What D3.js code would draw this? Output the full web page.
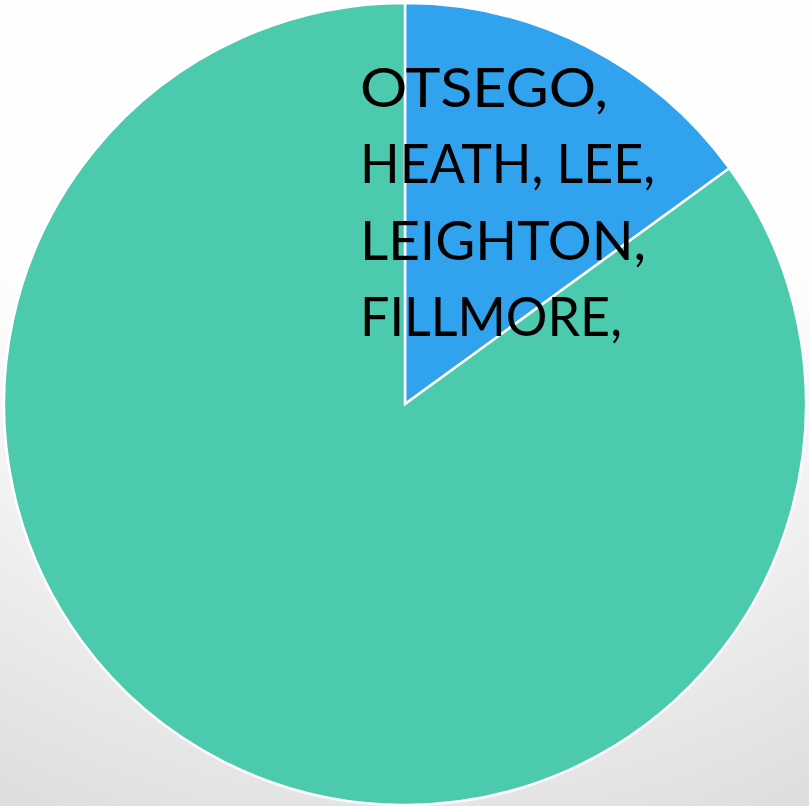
<!DOCTYPE html>
<html>
<head>
<meta charset="utf-8">
<script src="https://cdn.jsdelivr.net/npm/d3@7"></script>
<style>
  html, body { margin: 0; padding: 0; }
  body { width: 809px; height: 806px; overflow: hidden; }
</style>
</head>
<body>
<div id="chart"></div>
<script>
// slice data, clockwise from 12 o'clock
var categories = ["OTSEGO, HEATH, LEE, LEIGHTON, FILLMORE,", "OTHER"];
var values = [15, 85];
var colors = ["#31a3ee", "#4ccaae"];
// label lines as shown in the picture
var labelLines = ["OTSEGO,", "HEATH, LEE,", "LEIGHTON,", "FILLMORE,"];
var labelWidths = [248, 295, 286, 262];

var svgWidth = 809, svgHeight = 806;
var cx = 405, cy = 404, radius = 401;

var svg = d3.select("#chart")
  .append("svg")
  .attr("width", svgWidth)
  .attr("height", svgHeight);

// soft background, white at top fading to light grey
var defs = svg.append("defs");
var grad = defs.append("radialGradient")
  .attr("id", "bg")
  .attr("cx", "50%").attr("cy", "0%")
  .attr("r", "110%");
grad.append("stop").attr("offset", "0%").attr("stop-color", "#ffffff");
grad.append("stop").attr("offset", "55%").attr("stop-color", "#fdfdfd");
grad.append("stop").attr("offset", "100%").attr("stop-color", "#dedede");

svg.append("rect")
  .attr("width", svgWidth)
  .attr("height", svgHeight)
  .attr("fill", "url(#bg)");

var pie = d3.pie().sort(null).value(function(d) { return d; });
var arc = d3.arc().innerRadius(0).outerRadius(radius);

var g = svg.append("g")
  .attr("transform", "translate(" + cx + "," + cy + ")");

g.selectAll("path")
  .data(pie(values))
  .enter()
  .append("path")
  .attr("d", arc)
  .attr("fill", function(d, i) { return colors[i]; })
  .attr("stroke", "#ffffff")
  .attr("stroke-width", 2.5)
  .attr("stroke-linejoin", "miter");

// label of the small slice
var label = svg.append("text")
  .attr("x", 360)
  .attr("y", 107)
  .attr("font-family", "Lato, 'Noto Sans', sans-serif")
  .attr("font-size", 54)
  .attr("fill", "#000");

label.selectAll("tspan")
  .data(labelLines)
  .enter()
  .append("tspan")
  .attr("x", 360)
  .attr("y", function(d, i) { return 107 + i * 76.3; })
  .attr("textLength", function(d, i) { return labelWidths[i]; })
  .attr("lengthAdjust", "spacingAndGlyphs")
  .text(function(d) { return d; });
</script>
</body>
</html>
